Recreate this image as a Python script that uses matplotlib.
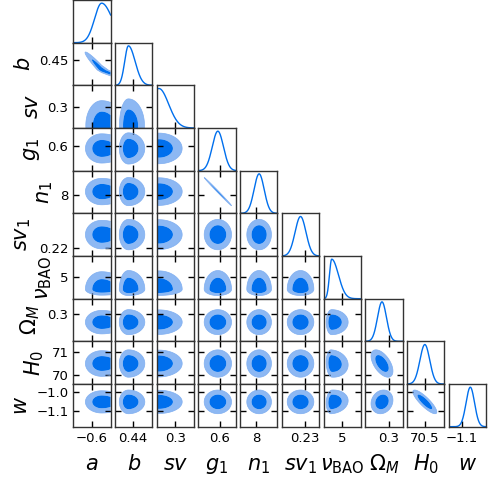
import numpy as np
import matplotlib
matplotlib.use('Agg')
import matplotlib.pyplot as plt

# parameters of the triangle plot
names = ['a', 'b', 'sv', 'g1', 'n1', 'sv1', 'nu', 'Om', 'H0', 'w']
labels = [r'$a$', r'$b$', r'$sv$', r'$g_1$', r'$n_1$', r'$sv_1$',
          r'$\nu_{\rm BAO}$', r'$\Omega_M$', r'$H_0$', r'$w$']

# posterior shape: peak and the width below / above the peak
peak = [-0.548, 0.430, 0.212, 0.593, 8.16, 0.2273, 3.88, 0.282, 70.50, -1.052]
sig_lo = [0.038, 0.0089, 0.052, 0.021, 0.27, 0.0034, 0.24, 0.012, 0.24, 0.025]
sig_hi = [0.057, 0.016, 0.052, 0.021, 0.27, 0.0034, 0.72, 0.012, 0.24, 0.025]

# plotted ranges
lo = [-0.70, 0.398, 0.20, 0.52, 7.14, 0.2156, 3.0, 0.237, 69.62, -1.18]
hi = [-0.50, 0.487, 0.40, 0.66, 9.14, 0.2389, 7.0, 0.337, 71.45, -0.96]

# ticks
xticks = [[-0.6], [0.44], [0.3], [0.6], [8], [0.23], [5], [0.3], [70.5], [-1.1]]
xtick_labels = [['\u22120.6'], ['0.44'], ['0.3'], ['0.6'], ['8'], ['0.23'], ['5'],
                ['0.3'], ['70.5'], ['\u22121.1']]
yticks = [[], [0.45], [0.3], [0.6], [8], [0.22], [5], [0.3], [70, 71], [-1.0, -1.1]]
ytick_labels = [[], ['0.45'], ['0.3'], ['0.6'], ['8'], ['0.22'], ['5'], ['0.3'],
                ['70', '71'], ['\u22121.0', '\u22121.1']]

# correlations between pairs (others are zero)
corr = {('a', 'b'): -0.965, ('g1', 'n1'): -0.997, ('Om', 'H0'): -0.55,
        ('H0', 'w'): -0.85, ('Om', 'w'): 0.15, ('nu', 'H0'): -0.1, ('nu', 'w'): 0.1}

dark = '#006FED'
light = '#8DB8F3'
edge = '#7FAEF0'


def zscore(k, v):
    d = v - peak[k]
    return np.where(d < 0, d / sig_lo[k], d / sig_hi[k])


def level(p, frac):
    s = np.sort(p.ravel())[::-1]
    c = np.cumsum(s) / s.sum()
    return s[np.searchsorted(c, frac)]


W, H = 493, 479
fig = plt.figure(figsize=(W / 100, H / 100), dpi=100)
n = len(names)

for i in range(n):
    for j in range(i + 1):
        left = (73.3 + 41.7 * j) / W
        bottom = 1 - 42.67 * (i + 1) / H
        ax = fig.add_axes([left, bottom, 37.3 / W, 42.67 / H])
        for sp in ax.spines.values():
            sp.set_linewidth(1.0)
            sp.set_color('#333333')

        if i == j:
            x = np.linspace(lo[j], hi[j], 300)
            p = np.exp(-0.5 * zscore(j, x) ** 2)
            ax.plot(x, p, color=dark, lw=1.0)
            ax.set_ylim(0, 1.08)
            ax.set_yticks([])
            ax.tick_params(direction='in', length=4, width=1, labelsize=9.5)
        else:
            x = np.linspace(lo[j], hi[j], 400)
            y = np.linspace(lo[i], hi[i], 400)
            X, Y = np.meshgrid(x, y)
            r = corr.get((names[j], names[i]), corr.get((names[i], names[j]), 0.0))
            zx = zscore(j, X)
            zy = zscore(i, Y)
            P = np.exp(-0.5 * (zx ** 2 - 2 * r * zx * zy + zy ** 2) / (1 - r ** 2))
            t68 = level(P, 0.68)
            t95 = level(P, 0.95)
            ax.contourf(X, Y, P, levels=[t95, t68, P.max() * 1.01],
                        colors=[light, dark], antialiased=True)
            ax.contour(X, Y, P, levels=[t95], colors=[edge], linewidths=0.5)
            ax.set_ylim(lo[i], hi[i])
            ax.set_yticks(yticks[i])
            ax.tick_params(direction='in', top=True, right=True, length=4, width=1,
                           labelsize=9.5)
        ax.set_xlim(lo[j], hi[j])
        ax.set_xticks(xticks[j])

        if i == n - 1:
            ax.set_xticklabels(xtick_labels[j])
            ax.set_xlabel(labels[j], fontsize=15)
            ax.xaxis.label.set_va('baseline')
            ax.xaxis.set_label_coords(0.5, -1.015)
        else:
            ax.set_xticklabels([])
        if j == 0 and i > 0:
            ax.set_yticklabels(ytick_labels[i])
            ax.set_ylabel(labels[i], fontsize=15, labelpad=4)
        elif i != j:
            ax.set_yticklabels([])

fig.savefig('out.png', dpi=100)
